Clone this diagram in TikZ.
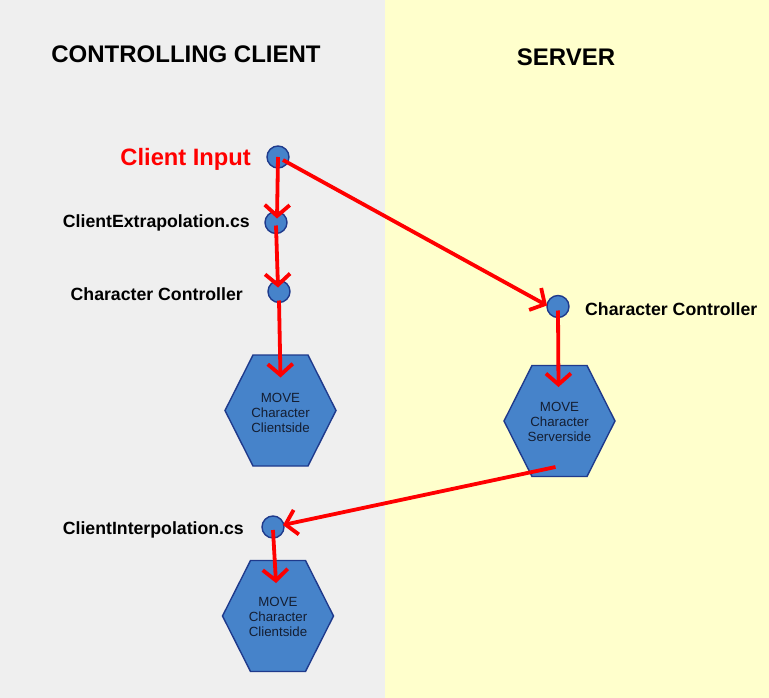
\documentclass[tikz,border=0pt]{standalone}
\usepackage{fontspec}
\setmainfont{Liberation Sans}
\usetikzlibrary{arrows.meta,calc}
\definecolor{leftbg}{RGB}{239,239,239}
\definecolor{rightbg}{RGB}{255,255,204}
\definecolor{nodefill}{RGB}{70,131,202}
\definecolor{nodeborder}{RGB}{31,58,140}
\definecolor{hextext}{RGB}{20,30,50}
\tikzset{
  dot/.style={circle,draw=nodeborder,fill=nodefill,line width=1.4pt,minimum size=22pt,inner sep=0pt},
  hexshape/.style={draw=nodeborder,fill=nodefill,line width=1.4pt},
  hexlabel/.style={align=center,text=hextext,font=\fontsize{13.3}{15}\selectfont,inner sep=0pt},
  lbl/.style={font=\bfseries\fontsize{17.7}{20}\selectfont,inner sep=0pt},
  title/.style={font=\bfseries\fontsize{24}{28}\selectfont,inner sep=0pt},
  redarrow/.style={draw=red,line width=3.8pt,-{Straight Barb[length=11pt,width=25pt,line width=3.8pt]}}
}
\newcommand{\hexagonat}[1]{%
  \path[hexshape] (#1.center) ++(-55.5,0) -- ++(28,-55.5) -- ++(55,0) -- ++(28,55.5) -- ++(-28,55.5) -- ++(-55,0) -- cycle;}
\begin{document}
\begin{tikzpicture}[x=1pt,y=-1pt]
\useasboundingbox (0,0) rectangle (769,698);
\fill[leftbg] (0,0) rectangle (385,698);
\fill[rightbg] (385,0) rectangle (769,698);

\node[title] (tclient) at (186,54) {CONTROLLING CLIENT};
\node[title] (tserver) at (566,57) {SERVER};

% hexagons
\coordinate (h1c) at (280.5,410.5);
\coordinate (h2c) at (559.5,421);
\coordinate (h3c) at (278,616);
\hexagonat{h1c}
\hexagonat{h2c}
\hexagonat{h3c}
\node[hexlabel] (h1) at ($(h1c)+(0,2)$) {MOVE\\Character\\Clientside};
\node[hexlabel] (h2) at ($(h2c)+(0,1)$) {MOVE\\Character\\Serverside};
\node[hexlabel] (h3) at ($(h3c)+(0,1)$) {MOVE\\Character\\Clientside};

% dots
\node[dot] (ci) at (278,157) {};
\node[dot] (ce) at (276,222.5) {};
\node[dot] (cc) at (279,291.5) {};
\node[dot] (sc) at (558,306.5) {};
\node[dot] (cint) at (273,527) {};

% labels
\node[anchor=east,text=red,font=\bfseries\fontsize{23.7}{26}\selectfont,inner sep=0pt] (lci) at (251,159) {Client Input};
\node[lbl,anchor=east] (lce) at (250,222.5) {ClientExtrapolation.cs};
\node[lbl,anchor=east] (lcc) at (243,294.5) {Character Controller};
\node[lbl,anchor=west] (lsc) at (585,309) {Character Controller};
\node[lbl,anchor=east] (lcint) at (244,529.5) {ClientInterpolation.cs};

% arrows
\draw[redarrow] (ci.center) -- ($(ce.center)+(1,-4)$);
\draw[redarrow] ($(ce.center)+(0,3)$) -- ($(cc.center)+(-1,-4)$);
\draw[redarrow] ($(cc.center)+(0,9)$) -- ($(h1c)+(0,-33)$);
\draw[redarrow] ($(ci.center)+(5,3)$) -- ($(sc.center)+(-11,-1)$);
\draw[redarrow] ($(sc.center)+(0,4)$) -- ($(h2c)+(-1,-34)$);
\draw[redarrow] ($(h2c)+(-4,46)$) -- ($(cint.center)+(10,-2)$);
\draw[redarrow] ($(cint.center)+(0,3)$) -- ($(h3c)+(-2,-33)$);
\end{tikzpicture}
\end{document}
